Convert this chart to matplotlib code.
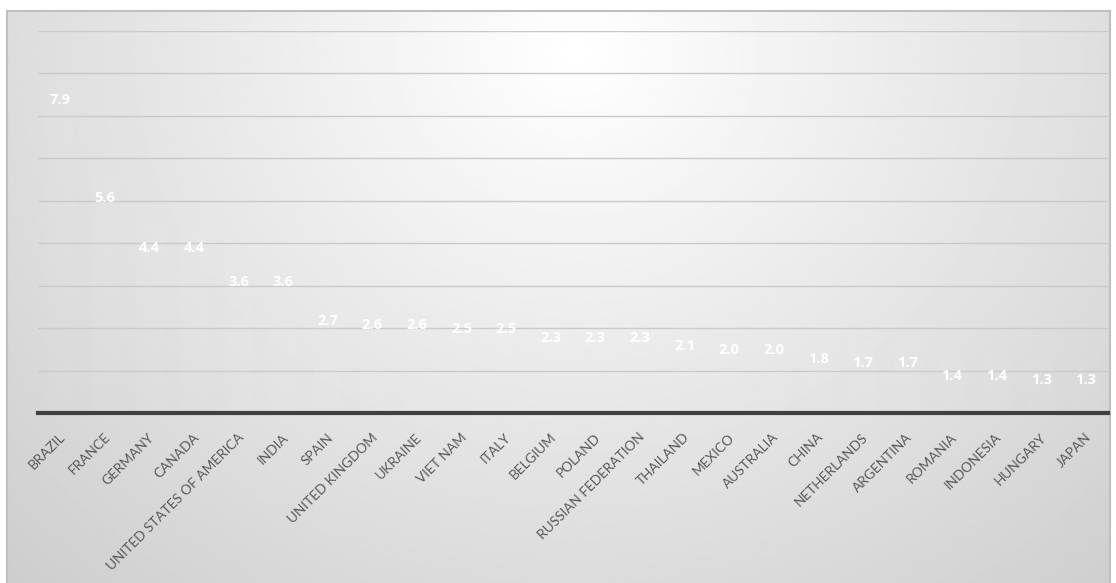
import numpy as np
import matplotlib
matplotlib.use("Agg")
import matplotlib.pyplot as plt
from matplotlib.transforms import ScaledTranslation

countries = ["BRAZIL", "FRANCE", "GERMANY", "CANADA", "UNITED STATES OF AMERICA",
             "INDIA", "SPAIN", "UNITED KINGDOM", "UKRAINE", "VIET NAM", "ITALY",
             "BELGIUM", "POLAND", "RUSSIAN FEDERATION", "THAILAND", "MEXICO",
             "AUSTRALIA", "CHINA", "NETHERLANDS", "ARGENTINA", "ROMANIA",
             "INDONESIA", "HUNGARY", "JAPAN"]
values = [7.9, 5.6, 4.4, 4.4, 3.6, 3.6, 2.7, 2.6, 2.6, 2.5, 2.5, 2.3, 2.3, 2.3,
          2.1, 2.0, 2.0, 1.8, 1.7, 1.7, 1.4, 1.4, 1.3, 1.3]

plt.rcParams['font.family'] = ['Lato', 'DejaVu Sans']

W, H = 1116, 583
fig = plt.figure(figsize=(W / 100, H / 100), dpi=100)
fig.patch.set_facecolor('white')

# chart area with a soft radial gradient
bg = fig.add_axes([7 / W, 0, (1110 - 7) / W, (H - 11) / H], zorder=0)
gx, gy = np.meshgrid(np.linspace(0, 1103, 600), np.linspace(0, 572, 320))
d = np.sqrt(((gx - 570) / 1.05) ** 2 + ((gy - 40) / 0.95) ** 2)
shade = np.clip(1.0 - d / 760 * 0.19, 0, 1)
bg.imshow(shade, cmap='gray', vmin=0, vmax=1, extent=[0, 1, 0, 1],
          aspect='auto', origin='upper', interpolation='bilinear')
bg.set_xticks([])
bg.set_yticks([])
for side in ['top', 'left', 'right']:
    bg.spines[side].set_color('#bfbfbf')
    bg.spines[side].set_linewidth(1.5)
bg.spines['bottom'].set_visible(False)

ax = fig.add_axes([38 / W, (H - 413) / H, (1108 - 38) / W, (413 - 31) / H], zorder=1)
ax.patch.set_alpha(0)
x = np.arange(len(countries))
# bars are white and nearly blend into the background
ax.bar(x, values, width=0.6, color='white', alpha=0.04, zorder=2)

ax.set_xlim(-0.5, len(countries) - 0.5)
ax.set_ylim(0, 9)
ax.set_yticks(np.arange(1, 10))
ax.yaxis.grid(True, color='#c9c9c9', linewidth=1)
ax.set_axisbelow(True)
ax.tick_params(axis='y', left=False, labelleft=False)
ax.tick_params(axis='x', length=0, pad=16)
ax.set_xticks(x)
ax.set_xticklabels(countries, rotation=45, ha='right', va='center',
                   rotation_mode='anchor', fontsize=9.8, color='#595959')
shift = ScaledTranslation(3 / 100, 0, fig.dpi_scale_trans)
for lbl in ax.get_xticklabels():
    lbl.set_transform(lbl.get_transform() + shift)
for side in ['top', 'left', 'right']:
    ax.spines[side].set_visible(False)
ax.spines['bottom'].set_color('#404040')
ax.spines['bottom'].set_linewidth(3)

for xi, v in zip(x, values):
    ax.annotate(f"{v:.1f}", (xi, v), xytext=(0, -16), textcoords='offset points',
                ha='center', va='center', color='white', fontsize=10.5,
                fontweight='bold', family=['Open Sans', 'DejaVu Sans'], zorder=3)

fig.savefig('out.png', dpi=100)
